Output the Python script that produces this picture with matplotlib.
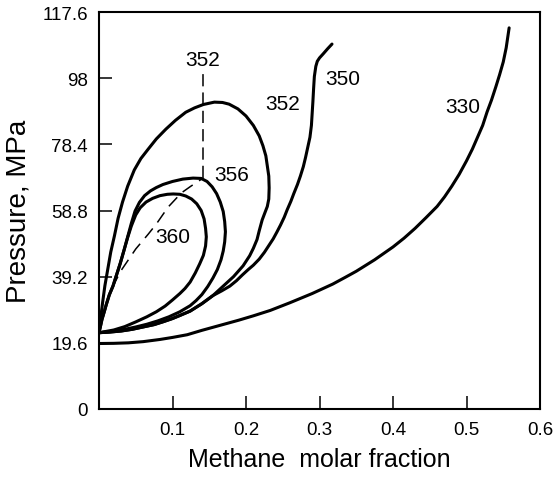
import matplotlib
matplotlib.use("Agg")
import matplotlib.pyplot as plt

plt.rcParams['font.family'] = ['Liberation Sans', 'DejaVu Sans']

# isotherm 330 K
x_330 = [0.0, 0.02, 0.04, 0.06, 0.083, 0.10, 0.12, 0.14, 0.155, 0.175, 0.19, 0.21,
         0.233, 0.26, 0.29, 0.318, 0.335, 0.35, 0.375, 0.40, 0.415, 0.43, 0.445,
         0.46, 0.47, 0.48, 0.49, 0.50, 0.508, 0.515, 0.522, 0.528, 0.534, 0.54,
         0.545, 0.55, 0.554, 0.558]
y_330 = [19.4, 19.45, 19.6, 19.95, 20.6, 21.2, 22.0, 23.3, 24.2, 25.4, 26.3, 27.6,
         29.2, 31.5, 34.2, 37.0, 39.0, 40.8, 44.2, 48.0, 50.6, 53.5, 56.7,
         60.0, 62.8, 66.0, 69.5, 73.5, 77.0, 80.5, 84.0, 88.0, 91.5, 95.5,
         99.0, 102.8, 107.0, 112.9]

# isotherm 350 K
x_350 = [0.0, 0.015, 0.03, 0.045, 0.06, 0.075, 0.088, 0.10, 0.11, 0.124, 0.14,
         0.155, 0.167, 0.178, 0.187, 0.195, 0.203, 0.21, 0.218, 0.225, 0.231,
         0.237, 0.242, 0.247, 0.252, 0.256, 0.261, 0.265, 0.27, 0.274, 0.278,
         0.281, 0.284, 0.287, 0.289, 0.29, 0.291, 0.292, 0.293, 0.295, 0.297,
         0.30, 0.305, 0.311, 0.317]
y_350 = [22.6, 22.8, 23.1, 23.6, 24.3, 25.0, 25.9, 26.8, 27.7, 29.0, 31.2,
         33.6, 35.0, 36.4, 38.0, 39.7, 41.3, 42.6, 44.4, 46.4, 48.4,
         50.4, 52.4, 54.5, 56.8, 59.0, 61.5, 63.8, 66.5, 69.0, 71.8,
         74.5, 77.5, 80.5, 84.0, 87.5, 91.0, 95.0, 98.5, 101.5, 103.0,
         104.0, 105.2, 106.7, 108.1]

# isotherm 352 K (loop)
x_352 = [0.0, 0.002, 0.005, 0.008, 0.012, 0.016, 0.021, 0.026, 0.032, 0.039, 0.048,
         0.057, 0.067, 0.078, 0.091, 0.104, 0.118, 0.13, 0.142, 0.157, 0.168,
         0.177, 0.189, 0.2, 0.21, 0.218, 0.223, 0.227, 0.229, 0.231, 0.2315,
         0.231, 0.229, 0.226, 0.222, 0.218, 0.215, 0.21, 0.205, 0.196, 0.183,
         0.169, 0.155, 0.14, 0.124, 0.11, 0.10, 0.088, 0.075, 0.06, 0.045,
         0.03, 0.015, 0.0]
y_352 = [22.6, 26.5, 31.7, 36.5, 41.5, 46.5, 51.3, 56.5, 61.3, 66.0, 70.8,
         74.2, 77.0, 80.0, 82.9, 85.5, 87.9, 89.2, 90.2, 90.9, 90.8,
         90.3, 88.9, 86.8, 84.0, 80.9, 78.0, 75.0, 72.0, 69.0, 65.5,
         62.2, 60.0, 58.3, 56.0, 52.8, 50.2, 47.6, 45.4, 42.4, 39.2,
         36.4, 33.6, 31.2, 29.0, 27.7, 26.8, 25.9, 25.0, 24.3, 23.6,
         23.1, 22.8, 22.6]

# isotherm 356 K (loop)
x_356 = [0.0, 0.002, 0.004, 0.007, 0.01, 0.014, 0.019, 0.024, 0.029, 0.034, 0.039,
         0.044, 0.049, 0.055, 0.062, 0.07, 0.078, 0.087, 0.10, 0.114, 0.128,
         0.139, 0.147, 0.154, 0.16, 0.165, 0.169, 0.171, 0.172, 0.171, 0.169,
         0.166, 0.161, 0.155, 0.148, 0.14, 0.132, 0.124, 0.11, 0.095, 0.08,
         0.065, 0.05, 0.035, 0.018, 0.0]
y_356 = [22.6, 24.5, 26.5, 28.7, 31.0, 33.8, 36.4, 39.8, 43.2, 47.0, 51.0,
         55.0, 58.6, 61.2, 63.2, 64.6, 65.6, 66.5, 67.4, 68.1, 68.4,
         68.3, 67.4, 65.8, 63.8, 61.3, 58.5, 55.5, 52.5, 49.5, 46.8,
         44.2, 41.3, 38.8, 36.3, 33.9, 32.1, 30.6, 28.8, 27.3, 26.1,
         25.1, 24.3, 23.6, 23.0, 22.6]

# isotherm 360 K (loop)
x_360 = [0.0, 0.002, 0.004, 0.007, 0.01, 0.014, 0.019, 0.024, 0.029, 0.034, 0.039,
         0.044, 0.05, 0.056, 0.064, 0.073, 0.083, 0.093, 0.101, 0.11, 0.118,
         0.126, 0.133, 0.139, 0.143, 0.145, 0.146, 0.145, 0.142, 0.137, 0.131,
         0.124, 0.117, 0.11, 0.10, 0.09, 0.078, 0.065, 0.05, 0.035, 0.02, 0.0]
y_360 = [22.6, 24.5, 26.5, 28.7, 31.0, 33.8, 36.4, 39.8, 43.2, 47.0, 50.8,
         54.2, 57.5, 59.6, 61.3, 62.4, 63.2, 63.6, 63.7, 63.6, 63.1,
         62.2, 60.8, 58.8, 56.3, 53.5, 51.0, 48.3, 45.5, 43.0, 40.3,
         37.6, 35.7, 34.2, 32.3, 30.5, 28.8, 27.3, 25.8, 24.4, 23.4, 22.6]

# critical locus (dashed)
x_crit = [0.018, 0.03, 0.05, 0.067, 0.078, 0.094, 0.112, 0.125, 0.141]
y_crit = [36.0, 41.0, 47.4, 51.8, 54.8, 59.8, 64.0, 66.0, 68.3]
x_vert = [0.141, 0.141]
y_vert = [68.3, 99.5]

# labels of isotherms
label_text = ['352', '352', '356', '360', '350', '330']
label_x = [0.141, 0.250, 0.180, 0.101, 0.331, 0.495]
label_y = [103.5, 90.6, 69.6, 51.2, 98.0, 89.7]

x_ticks = [0.1, 0.2, 0.3, 0.4, 0.5, 0.6]
y_ticks = [0, 19.6, 39.2, 58.8, 78.4, 98, 117.6]
y_tick_labels = ['0', '19.6', '39.2', '58.8', '78.4', '98', '117.6']

fig = plt.figure(figsize=(5.57, 4.81), dpi=100)
ax = fig.add_axes([99 / 557, 71 / 481, 441 / 557, 397 / 481])

lw = 2.2
for xs, ys in [(x_330, y_330), (x_350, y_350), (x_352, y_352),
               (x_356, y_356), (x_360, y_360)]:
    ax.plot(xs, ys, color='black', lw=lw, solid_joinstyle='round',
            solid_capstyle='round')

ax.plot(x_crit, y_crit, color='black', lw=1.1, dashes=(8, 5))
ax.plot(x_vert, y_vert, color='black', lw=1.1, dashes=(8, 4))

for t, xx, yy in zip(label_text, label_x, label_y):
    ax.text(xx, yy, t, fontsize=15, ha='center', va='center')

ax.set_xlim(0, 0.6)
ax.set_ylim(0, 117.6)
ax.set_xticks(x_ticks)
ax.set_xticklabels([str(v) for v in x_ticks])
ax.set_yticks(y_ticks)
ax.set_yticklabels(y_tick_labels)
ax.tick_params(direction='in', length=9.5, width=1.1, labelsize=13.5)
ax.tick_params(axis='y', pad=8)
ax.tick_params(axis='x', pad=9)

for s in ax.spines.values():
    s.set_linewidth(1.5)

ax.set_xlabel('Methane  molar fraction', fontsize=18, labelpad=6)
ax.set_ylabel('Pressure, MPa', fontsize=20, labelpad=8)

fig.savefig('out.png', dpi=100)
